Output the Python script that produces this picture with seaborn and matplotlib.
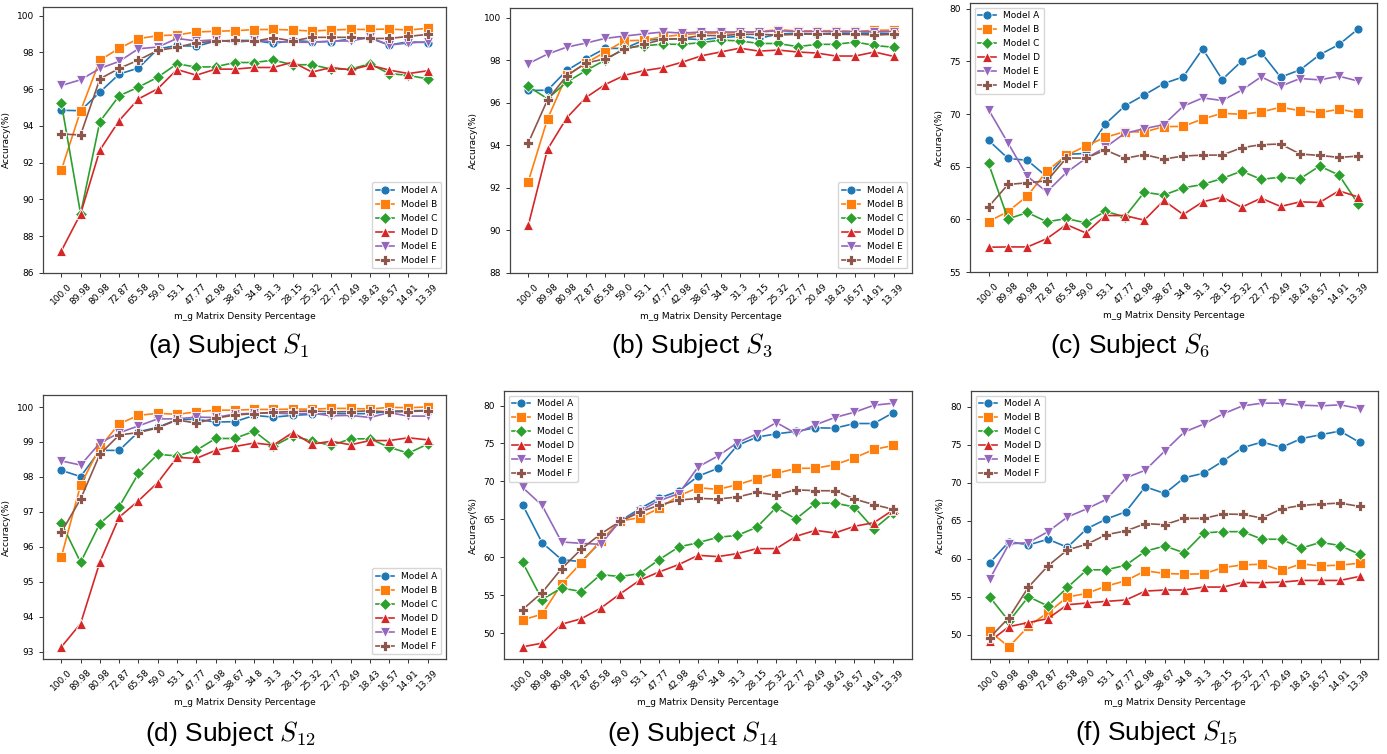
import numpy as np
import pandas as pd
import matplotlib
matplotlib.use("Agg")
import matplotlib.pyplot as plt
import seaborn as sns

plt.rcParams['mathtext.fontset'] = 'cm'
plt.rcParams['font.family'] = ['DejaVu Sans']

densities = ["100.0", "89.98", "80.98", "72.87", "65.58", "59.0", "53.1", "47.77", "42.98",
             "38.67", "34.8", "31.3", "28.15", "25.32", "22.77", "20.49", "18.43", "16.57",
             "14.91", "13.39"]
models = ["Model A", "Model B", "Model C", "Model D", "Model E", "Model F"]

# Subject S1
s1_A = [94.85, 94.83, 95.84, 96.82, 97.15, 98.18, 98.38, 98.33, 98.62, 98.65, 98.65, 98.49, 98.65, 98.58, 98.58, 98.73, 98.78, 98.40, 98.58, 98.53]
s1_B = [91.60, 94.82, 97.58, 98.22, 98.75, 98.91, 98.95, 99.11, 99.15, 99.18, 99.24, 99.25, 99.22, 99.16, 99.22, 99.25, 99.25, 99.27, 99.22, 99.31]
s1_C = [95.25, 89.22, 94.24, 95.64, 96.11, 96.65, 97.38, 97.20, 97.22, 97.45, 97.45, 97.58, 97.33, 97.33, 97.09, 97.09, 97.38, 96.85, 96.75, 96.56]
s1_D = [87.20, 89.22, 92.69, 94.29, 95.47, 96.02, 97.07, 96.76, 97.09, 97.09, 97.18, 97.18, 97.47, 96.93, 97.18, 97.05, 97.31, 97.04, 96.85, 97.00]
s1_E = [96.20, 96.51, 97.13, 97.51, 98.20, 98.29, 98.76, 98.62, 98.69, 98.55, 98.65, 98.60, 98.55, 98.55, 98.62, 98.62, 98.82, 98.40, 98.51, 98.58]
s1_F = [93.56, 93.51, 96.56, 97.13, 97.58, 98.11, 98.27, 98.53, 98.60, 98.65, 98.60, 98.80, 98.62, 98.82, 98.82, 98.82, 98.76, 98.76, 98.87, 98.98]

# Subject S3
s3_A = [96.59, 96.60, 97.53, 98.08, 98.57, 98.57, 98.95, 99.00, 99.03, 98.98, 99.07, 99.14, 99.04, 99.25, 99.28, 99.23, 99.29, 99.28, 99.29, 99.26]
s3_B = [92.30, 95.25, 97.30, 97.88, 98.40, 98.93, 98.95, 99.12, 99.21, 99.28, 99.29, 99.31, 99.36, 99.45, 99.39, 99.40, 99.40, 99.37, 99.42, 99.43]
s3_C = [96.78, 96.20, 96.98, 97.53, 98.02, 98.58, 98.69, 98.77, 98.76, 98.84, 98.96, 98.92, 98.80, 98.80, 98.65, 98.76, 98.76, 98.87, 98.71, 98.62]
s3_D = [90.24, 93.82, 95.30, 96.26, 96.87, 97.30, 97.52, 97.66, 97.92, 98.22, 98.40, 98.58, 98.44, 98.49, 98.40, 98.35, 98.21, 98.21, 98.40, 98.19]
s3_E = [97.85, 98.30, 98.63, 98.82, 99.04, 99.15, 99.25, 99.34, 99.29, 99.34, 99.34, 99.34, 99.34, 99.40, 99.36, 99.36, 99.36, 99.36, 99.36, 99.36]
s3_F = [94.12, 96.15, 97.28, 97.88, 98.08, 98.52, 98.76, 98.99, 99.03, 99.18, 99.17, 99.23, 99.23, 99.20, 99.23, 99.26, 99.23, 99.23, 99.20, 99.23]

# Subject S6
s6_A = [67.50, 65.79, 65.60, 64.04, 66.17, 66.26, 69.05, 70.77, 71.81, 72.89, 73.53, 76.19, 73.27, 75.02, 75.84, 73.50, 74.19, 75.62, 76.60, 78.10]
s6_B = [59.79, 60.74, 62.23, 64.58, 66.07, 66.96, 67.79, 68.32, 68.29, 68.80, 68.83, 69.53, 70.07, 69.97, 70.20, 70.64, 70.32, 70.13, 70.45, 70.13]
s6_C = [65.31, 60.04, 60.65, 59.76, 60.08, 59.66, 60.77, 60.23, 62.58, 62.30, 62.99, 63.31, 63.88, 64.58, 63.79, 64.01, 63.85, 65.06, 64.20, 61.41]
s6_D = [57.35, 57.38, 57.38, 58.17, 59.50, 58.71, 60.36, 60.36, 59.92, 61.79, 60.46, 61.66, 62.11, 61.15, 62.01, 61.22, 61.66, 61.60, 62.71, 62.11]
s6_E = [70.42, 67.25, 64.07, 62.61, 64.45, 65.79, 66.83, 68.17, 68.61, 68.99, 70.74, 71.53, 71.28, 72.26, 73.53, 72.64, 73.37, 73.24, 73.59, 73.12]
s6_F = [61.19, 63.31, 63.47, 63.66, 65.82, 65.82, 66.58, 65.79, 66.14, 65.72, 66.01, 66.10, 66.10, 66.80, 67.09, 67.15, 66.20, 66.07, 65.88, 66.01]

# Subject S12
s12_A = [98.19, 98.01, 98.76, 98.76, 99.29, 99.42, 99.64, 99.65, 99.57, 99.58, 99.76, 99.71, 99.76, 99.79, 99.81, 99.81, 99.81, 99.88, 99.89, 99.90]
s12_B = [95.71, 97.77, 98.85, 99.52, 99.76, 99.82, 99.79, 99.86, 99.91, 99.91, 99.93, 99.93, 99.94, 99.94, 99.96, 99.96, 99.94, 99.99, 99.98, 100.00]
s12_C = [96.69, 95.56, 96.67, 97.15, 98.10, 98.65, 98.60, 98.76, 99.10, 99.10, 99.31, 98.88, 99.17, 99.03, 98.90, 99.09, 99.09, 98.85, 98.68, 98.94]
s12_D = [93.14, 93.81, 95.57, 96.85, 97.32, 97.84, 98.56, 98.53, 98.76, 98.87, 98.97, 98.91, 99.27, 98.94, 99.02, 98.92, 99.04, 99.04, 99.12, 99.06]
s12_E = [98.46, 98.34, 98.97, 99.26, 99.46, 99.66, 99.66, 99.71, 99.70, 99.80, 99.82, 99.83, 99.80, 99.82, 99.75, 99.76, 99.70, 99.84, 99.74, 99.74]
s12_F = [96.42, 97.37, 98.65, 99.20, 99.27, 99.40, 99.63, 99.54, 99.68, 99.77, 99.81, 99.85, 99.87, 99.89, 99.86, 99.87, 99.89, 99.86, 99.87, 99.89]

# Subject S14
s14_A = [66.93, 61.93, 59.69, 59.43, 62.00, 64.78, 66.40, 67.80, 68.73, 70.70, 71.71, 74.74, 75.83, 76.27, 76.58, 77.06, 77.02, 77.63, 77.63, 79.08]
s14_B = [51.75, 52.50, 56.49, 59.25, 62.20, 64.78, 65.22, 66.45, 68.11, 69.17, 68.95, 69.56, 70.35, 71.05, 71.71, 71.75, 72.19, 73.11, 74.21, 74.74]
s14_C = [59.34, 54.43, 55.96, 55.48, 57.72, 57.46, 57.85, 59.69, 61.36, 61.93, 62.63, 62.89, 63.95, 66.58, 65.04, 67.11, 67.15, 66.62, 63.73, 65.88]
s14_D = [48.20, 48.68, 51.18, 51.89, 53.29, 55.18, 56.97, 58.07, 59.04, 60.26, 60.09, 60.48, 61.14, 61.14, 62.76, 63.55, 63.20, 64.08, 64.56, 66.27]
s14_E = [69.21, 66.84, 62.02, 61.84, 61.71, 64.78, 66.10, 67.46, 68.38, 71.93, 73.33, 75.09, 76.27, 77.76, 76.32, 77.46, 78.42, 79.12, 80.04, 80.31]
s14_F = [53.11, 55.35, 58.51, 61.05, 63.07, 64.74, 65.92, 66.89, 67.54, 67.76, 67.68, 67.94, 68.55, 68.20, 68.90, 68.77, 68.77, 67.68, 66.93, 66.32]

# Subject S15
s15_A = [59.43, 62.27, 61.83, 62.58, 61.53, 63.97, 65.24, 66.20, 69.48, 68.60, 70.66, 71.27, 72.88, 74.63, 75.37, 74.67, 75.81, 76.33, 76.81, 75.33]
s15_B = [50.48, 48.43, 51.14, 52.93, 54.98, 55.46, 56.42, 57.12, 58.43, 58.08, 57.99, 58.03, 58.86, 59.21, 59.30, 58.47, 59.34, 59.08, 59.17, 59.43]
s15_C = [55.02, 51.79, 55.02, 53.80, 56.24, 58.56, 58.56, 59.17, 61.00, 61.70, 60.79, 63.41, 63.58, 63.58, 62.58, 62.58, 61.40, 62.18, 61.75, 60.61]
s15_D = [49.13, 51.09, 51.62, 52.14, 53.97, 54.19, 54.41, 54.59, 55.76, 55.90, 55.90, 56.29, 56.29, 56.90, 56.86, 56.94, 57.16, 57.16, 57.16, 57.69]
s15_E = [57.29, 61.97, 62.14, 63.58, 65.50, 66.59, 67.82, 70.66, 71.66, 74.19, 76.68, 77.73, 79.08, 80.13, 80.48, 80.48, 80.22, 80.13, 80.26, 79.78]
s15_F = [49.61, 52.27, 56.29, 59.08, 61.18, 61.92, 63.19, 63.67, 64.63, 64.50, 65.33, 65.33, 65.90, 65.85, 65.37, 66.59, 67.03, 67.21, 67.34, 66.90]

captions = [r"(a) Subject $S_1$", r"(b) Subject $S_3$", r"(c) Subject $S_6$",
            r"(d) Subject $S_{12}$", r"(e) Subject $S_{14}$", r"(f) Subject $S_{15}$"]
subjects = [
    [s1_A, s1_B, s1_C, s1_D, s1_E, s1_F],
    [s3_A, s3_B, s3_C, s3_D, s3_E, s3_F],
    [s6_A, s6_B, s6_C, s6_D, s6_E, s6_F],
    [s12_A, s12_B, s12_C, s12_D, s12_E, s12_F],
    [s14_A, s14_B, s14_C, s14_D, s14_E, s14_F],
    [s15_A, s15_B, s15_C, s15_D, s15_E, s15_F],
]

# layout (pixels): left, top, right, bottom
W, H = 1387, 754
boxes = [(43, 7, 446, 273), (510, 8, 912, 273), (970, 3, 1377, 272),
         (43, 395, 446, 659), (504, 391, 912, 659), (971, 391, 1378, 659)]
ylims = [(86, 100.47), (88, 100.47), (55, 80.54), None, None, None]
legend_locs = ["lower right", "lower right", "upper left", "lower right", "upper left", "upper left"]
caption_pos = [(228, 346), (692, 346), (1130, 346), (230, 733), (692, 733), (1157, 733)]

markers = ['o', 's', 'D', '^', 'v', 'P']
palette = sns.color_palette("tab10", 6)

fig = plt.figure(figsize=(W / 100, H / 100), dpi=100)

for i, series in enumerate(subjects):
    l, t, r, b = boxes[i]
    ax = fig.add_axes([l / W, 1 - b / H, (r - l) / W, (b - t) / H])
    rows = []
    for m, vals in zip(models, series):
        for d, v in zip(densities, vals):
            rows.append((d, v, m))
    df = pd.DataFrame(rows, columns=["density", "acc", "model"])
    sns.lineplot(data=df, x="density", y="acc", hue="model", style="model",
                 markers=markers, dashes=False, palette=palette, sort=False,
                 markersize=6.5, linewidth=1.2, markeredgewidth=0.6, ax=ax)
    if ylims[i] is not None:
        ax.set_ylim(*ylims[i])
    ax.set_xlabel("m_g Matrix Density Percentage", fontsize=6.5)
    ax.set_ylabel("Accuracy(%)", fontsize=6.5)
    ax.tick_params(axis='both', labelsize=6.5, length=3, width=0.7, color='#333333')
    plt.setp(ax.get_xticklabels(), rotation=45, ha='center')
    for sp in ax.spines.values():
        sp.set_color('#444444')
        sp.set_linewidth(0.9)
    leg = ax.get_legend()
    if leg is not None:
        leg.remove()
    handles = ax.lines[:len(models)]
    ax.legend(handles, models, loc=legend_locs[i], fontsize=6.5, framealpha=0.8,
              handlelength=2.0, borderpad=0.4, labelspacing=0.55)
    cx, cy = caption_pos[i]
    fig.text(cx / W, 1 - cy / H, captions[i], ha='center', va='center',
             fontsize=19, family='Liberation Sans')

fig.savefig("out.png", dpi=100)
